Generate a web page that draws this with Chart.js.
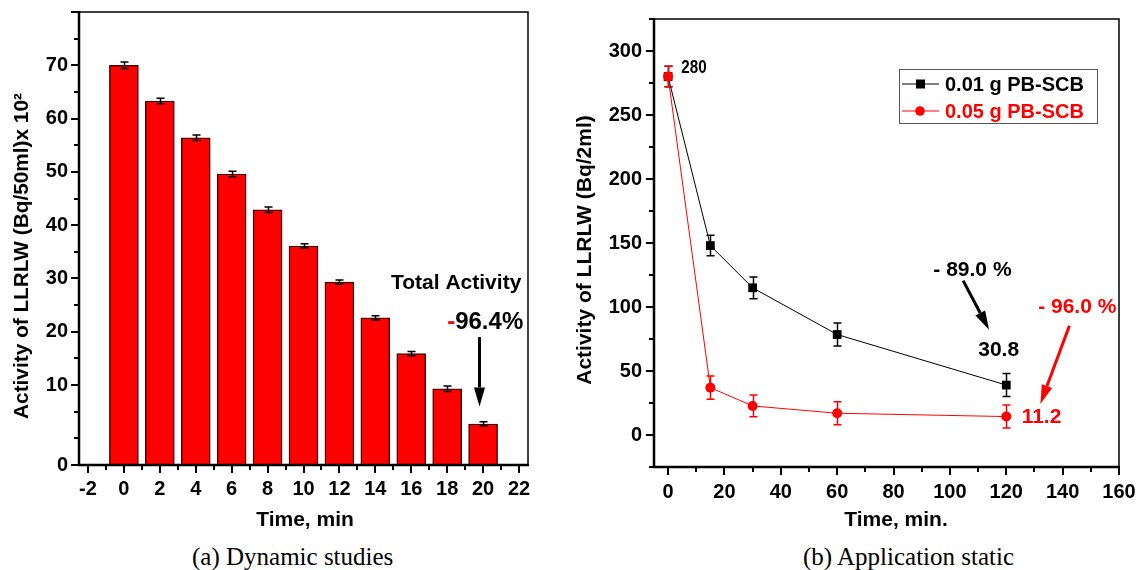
<!DOCTYPE html>
<html>
<head>
<meta charset="utf-8">
<script src="https://cdn.jsdelivr.net/npm/chart.js@4.4.1/dist/chart.umd.min.js"></script>
<style>
    body { margin: 0; background: #fff; width: 1137px; height: 570px; position: relative; overflow: hidden; }
    .wrap { position: absolute; top: 0; height: 540px; }
    #wa { left: 0; width: 560px; }
    #wb { left: 560px; width: 577px; }
    .cap { position: absolute; top: 542px; font-family: 'Liberation Serif', 'Times New Roman', serif; font-size: 25px; line-height: 30px; white-space: nowrap; }
</style>
</head>
<body>
<div class="wrap" id="wa"><canvas id="chartA" width="560" height="540"></canvas></div>
<div class="wrap" id="wb"><canvas id="chartB" width="577" height="540"></canvas></div>
<div class="cap" id="capA" style="left:192px">(a) Dynamic studies</div>
<div class="cap" id="capB" style="left:803px">(b) Application static</div>
<script>
// --- (a) dynamic studies
const timeA = [0, 2, 4, 6, 8, 10, 12, 14, 16, 18, 20];
const activityA = [70.0, 63.3, 56.4, 49.6, 42.9, 36.1, 29.3, 22.6, 15.9, 9.3, 2.7];
const errA = [0.6, 0.5, 0.5, 0.5, 0.5, 0.4, 0.4, 0.4, 0.4, 0.5, 0.4];
const xTicksA = [-2, -1, 0, 1, 2, 3, 4, 5, 6, 7, 8, 9, 10, 11, 12, 13, 14, 15, 16, 17, 18, 19, 20, 21, 22];
const yTicksA = [-5, 0, 5, 10, 15, 20, 25, 30, 35, 40, 45, 50, 55, 60, 65, 70, 75, 80];

// --- (b) application static
const timeB = [0, 15, 30, 60, 120];
const seriesNames = ['0.01 g PB-SCB', '0.05 g PB-SCB'];
const act01 = [280, 148, 115, 78.5, 39];
const err01 = [8, 8, 8.5, 9, 9];
const act05 = [280, 37, 22.7, 17, 14.4];
const err05 = [8, 9, 8.5, 9, 9];
const xTicksB = [0, 10, 20, 30, 40, 50, 60, 70, 80, 90, 100, 110, 120, 130, 140, 150, 160];
const yTicksB = [-25, 0, 25, 50, 75, 100, 125, 150, 175, 200, 225, 250, 275, 300, 325];

const FONT = "'Liberation Sans', Arial, sans-serif";

// annotations in data units
const notesA = [
    { x: 18.5, y: 29.1, parts: [['Total Activity', '#000']], size: 21, align: 'center' },
    { x: 18.0, y: 21.8, parts: [['-', '#ff0000'], ['96.4%', '#000']], size: 24, align: 'left' }
];
const arrowsA = [{ x1: 19.8, y1: 19.0, x2: 19.8, y2: 6.0, color: '#000' }];
const notesB = [
    { x: 4.7, y: 287, parts: [['280', '#000']], size: 19, align: 'left', narrow: true },
    { x: 108, y: 129, parts: [['- 89.0 %', '#000']], size: 21, align: 'center' },
    { x: 117.3, y: 66.5, parts: [['30.8', '#000']], size: 21, align: 'center' },
    { x: 145.2, y: 99.5, parts: [['- 96.0 %', '#ff0000']], size: 21, align: 'center' },
    { x: 132.5, y: 14.1, parts: [['11.2', '#ff0000']], size: 21, align: 'center' }
];
const arrowsB = [
    { x1: 104.7, y1: 120.6, x2: 113.9, y2: 82.2, color: '#000' },
    { x1: 142.4, y1: 85.4, x2: 132.1, y2: 24.3, color: '#ff0000' }
];

function drawArrow(ctx, x1, y1, x2, y2, color) {
    const ang = Math.atan2(y2 - y1, x2 - x1);
    const head = 19, half = 5.5;
    const bx = x2 - head * Math.cos(ang), by = y2 - head * Math.sin(ang);
    ctx.strokeStyle = color;
    ctx.fillStyle = color;
    ctx.lineWidth = 3;
    ctx.beginPath();
    ctx.moveTo(x1, y1);
    ctx.lineTo(bx, by);
    ctx.stroke();
    ctx.beginPath();
    ctx.moveTo(x2, y2);
    ctx.lineTo(bx + half * Math.sin(ang), by - half * Math.cos(ang));
    ctx.lineTo(bx - half * Math.sin(ang), by + half * Math.cos(ang));
    ctx.closePath();
    ctx.fill();
}

function drawNote(ctx, xs, ys, n) {
    ctx.save();
    ctx.font = 'bold ' + n.size + 'px ' + FONT;
    ctx.textBaseline = 'middle';
    ctx.textAlign = 'left';
    const sx = n.narrow ? 0.8 : 1;
    let total = 0;
    n.parts.forEach(p => total += ctx.measureText(p[0]).width * sx);
    let px = xs.getPixelForValue(n.x);
    if (n.align === 'center') px -= total / 2;
    const py = ys.getPixelForValue(n.y);
    ctx.translate(px, py);
    ctx.scale(sx, 1);
    let off = 0;
    n.parts.forEach(p => {
        ctx.fillStyle = p[1];
        ctx.fillText(p[0], off, 0);
        off += ctx.measureText(p[0]).width;
    });
    ctx.restore();
}

// frame, tick marks, axis titles, error bars, notes
const decorPlugin = {
    id: 'decor',
    beforeDatasetsDraw(chart, args, o) {
        if (!o.errorsUnder) return;
        drawErrors(chart, o);
    },
    afterDatasetsDraw(chart, args, o) {
        if (o.errorsUnder) return;
        drawErrors(chart, o);
    },
    afterDraw(chart, args, o) {
        const ctx = chart.ctx, a = chart.chartArea;
        const xs = chart.scales.x, ys = chart.scales.y;
        ctx.save();
        ctx.strokeStyle = '#000';
        ctx.lineWidth = 1.5;
        ctx.strokeRect(a.left, a.top, a.right - a.left, a.bottom - a.top);
        ctx.lineWidth = 2.5;
        ctx.beginPath();
        ctx.moveTo(a.left, a.top - 1);
        ctx.lineTo(a.left, a.bottom);
        ctx.lineTo(a.right + 1, a.bottom);
        ctx.stroke();

        ctx.lineWidth = 2;
        ctx.beginPath();
        xs.ticks.forEach(t => {
            const px = Math.round(xs.getPixelForValue(t.value));
            const len = o.xMajor(t.value) ? 8 : 5;
            ctx.moveTo(px, a.bottom);
            ctx.lineTo(px, a.bottom + len);
        });
        ys.ticks.forEach(t => {
            const py = Math.round(ys.getPixelForValue(t.value));
            const len = o.yMajor(t.value) ? 8 : 5;
            ctx.moveTo(a.left, py);
            ctx.lineTo(a.left - len, py);
        });
        ctx.stroke();

        ctx.fillStyle = '#000';
        ctx.font = 'bold 21px ' + FONT;
        ctx.textAlign = 'center';
        ctx.textBaseline = 'middle';
        ctx.fillText(o.xTitle, o.xTitlePos[0], o.xTitlePos[1]);
        ctx.save();
        ctx.font = 'bold ' + o.yTitleSize + 'px ' + FONT;
        ctx.translate(o.yTitlePos[0], o.yTitlePos[1]);
        ctx.rotate(-Math.PI / 2);
        ctx.fillText(o.yTitle, 0, 0);
        ctx.restore();

        o.notes.forEach(n => drawNote(ctx, xs, ys, n));
        o.arrows.forEach(r => drawArrow(ctx,
            xs.getPixelForValue(r.x1), ys.getPixelForValue(r.y1),
            xs.getPixelForValue(r.x2), ys.getPixelForValue(r.y2), r.color));

        if (o.legend) {
            const lx = a.left + 245, ly = a.top + 50;
            ctx.lineWidth = 1;
            ctx.strokeStyle = '#555';
            ctx.strokeRect(lx + 0.5, ly + 0.5, 198, 54);
            chart.data.datasets.slice().sort((p, q) => p.legendIndex - q.legendIndex).forEach((ds, i) => {
                const ry = ly + 15 + i * 27;
                ctx.strokeStyle = ds.borderColor;
                ctx.lineWidth = 1;
                ctx.beginPath();
                ctx.moveTo(lx + 3, ry);
                ctx.lineTo(lx + 40, ry);
                ctx.stroke();
                ctx.fillStyle = ds.pointBackgroundColor;
                ctx.beginPath();
                if (ds.pointStyle === 'rect') ctx.rect(lx + 17, ry - 4.5, 9, 9);
                else ctx.arc(lx + 21, ry, 4.8, 0, Math.PI * 2);
                ctx.fill();
                ctx.font = 'bold 20px ' + FONT;
                ctx.textAlign = 'left';
                ctx.fillText(ds.label, lx + 46, ry + 1);
            });
        }
        ctx.restore();
    }
};

function drawErrors(chart, o) {
    const ctx = chart.ctx;
    const xs = chart.scales.x, ys = chart.scales.y;
    ctx.save();
    chart.data.datasets.forEach((ds, di) => {
        const err = o.errors[di];
        if (!err) return;
        ctx.strokeStyle = o.errorColors[di];
        ctx.lineWidth = 1.5;
        ds.data.forEach((pt, i) => {
            const px = Math.round(xs.getPixelForValue(pt.x)) + 0.5;
            const top = ys.getPixelForValue(pt.y + err[i]);
            const bot = ys.getPixelForValue(pt.y - err[i]);
            ctx.beginPath();
            ctx.moveTo(px, top); ctx.lineTo(px, bot);
            ctx.moveTo(px - 4, top); ctx.lineTo(px + 4, top);
            ctx.moveTo(px - 4, bot); ctx.lineTo(px + 4, bot);
            ctx.stroke();
        });
    });
    ctx.restore();
}

function fixedTicks(list) {
    return s => { s.ticks = list.map(v => ({ value: v })); };
}
function fitY(w) {
    return s => { s.width = w; s.paddingTop = 0; s.paddingBottom = 0; };
}
function fitX(h) {
    return s => { s.height = h; s.paddingLeft = 0; s.paddingRight = 0; };
}

const tickFont = { family: FONT, size: 20, weight: 'bold' };

new Chart(document.getElementById('chartA'), {
    type: 'bar',
    data: {
        datasets: [{
            data: timeA.map((t, i) => ({ x: t, y: activityA[i] })),
            backgroundColor: '#ff0000',
            borderColor: '#4d0000',
            borderWidth: 1.5,
            barThickness: 29,
            base: -5
        }]
    },
    options: {
        responsive: false,
        animation: false,
        layout: { padding: { top: 12, right: 32, left: 0, bottom: 0 } },
        plugins: {
            legend: { display: false },
            tooltip: { enabled: false },
            decor: {
                errors: [errA], errorColors: ['#000'], errorsUnder: false,
                xMajor: v => v % 2 === 0,
                yMajor: v => v === -5 || (v % 10 === 0 && v >= 10),
                xTitle: 'Time, min', xTitlePos: [305, 520],
                yTitle: 'Activity of LLRLW (Bq/50ml)x 10²', yTitlePos: [22, 256], yTitleSize: 20.8,
                notes: notesA, arrows: arrowsA, legend: false
            }
        },
        scales: {
            x: {
                type: 'linear', min: -2.5, max: 22.5, offset: false,
                afterBuildTicks: fixedTicks(xTicksA),
                afterFit: fitX(75),
                grid: { display: false }, border: { display: false },
                ticks: { color: '#000', font: tickFont, padding: 4, autoSkip: false, maxRotation: 0,
                    callback: v => (v % 2 === 0 ? String(v) : '') }
            },
            y: {
                min: -5, max: 80,
                afterBuildTicks: fixedTicks(yTicksA),
                afterFit: fitY(79),
                grid: { display: false }, border: { display: false },
                ticks: { color: '#000', font: tickFont, padding: 3, autoSkip: false,
                    callback: v => (v === -5 ? '0' : (v % 10 === 0 && v >= 10 && v <= 70 ? String(v) : '')) }
            }
        }
    },
    plugins: [decorPlugin]
});

new Chart(document.getElementById('chartB'), {
    type: 'scatter',
    data: {
        datasets: [{
            label: seriesNames[0],
            legendIndex: 0,
            order: 1,
            data: timeB.map((t, i) => ({ x: t, y: act01[i] })),
            showLine: true,
            borderColor: '#000',
            borderWidth: 1,
            pointStyle: 'rect',
            pointRadius: 6.2,
            pointBackgroundColor: '#000',
            pointBorderWidth: 0
        }, {
            label: seriesNames[1],
            legendIndex: 1,
            order: 0,
            data: timeB.map((t, i) => ({ x: t, y: act05[i] })),
            showLine: true,
            borderColor: '#ff0000',
            borderWidth: 1,
            pointStyle: 'circle',
            pointRadius: 5,
            pointBackgroundColor: '#ff0000',
            pointBorderWidth: 0
        }]
    },
    options: {
        responsive: false,
        animation: false,
        layout: { padding: { top: 19, right: 18, left: 0, bottom: 0 } },
        plugins: {
            legend: { display: false },
            tooltip: { enabled: false },
            decor: {
                errors: [err01, err05], errorColors: ['#000', '#ff0000'], errorsUnder: true,
                xMajor: v => v % 20 === 0,
                yMajor: v => v % 50 === 0,
                xTitle: 'Time, min.', xTitlePos: [336, 520],
                yTitle: 'Activity of LLRLW (Bq/2ml)', yTitlePos: [25, 250], yTitleSize: 21,
                notes: notesB, arrows: arrowsB, legend: true
            }
        },
        scales: {
            x: {
                type: 'linear', min: -5, max: 160,
                afterBuildTicks: fixedTicks(xTicksB),
                afterFit: fitX(73),
                grid: { display: false }, border: { display: false },
                ticks: { color: '#000', font: tickFont, padding: 5, autoSkip: false, maxRotation: 0,
                    callback: v => (v % 20 === 0 ? String(v) : '') }
            },
            y: {
                min: -25, max: 325,
                afterBuildTicks: fixedTicks(yTicksB),
                afterFit: fitY(94),
                grid: { display: false }, border: { display: false },
                ticks: { color: '#000', font: tickFont, padding: 4, autoSkip: false,
                    callback: v => (v % 50 === 0 && v >= 0 && v <= 300 ? String(v) : '') }
            }
        }
    },
    plugins: [decorPlugin]
});
</script>
</body>
</html>
